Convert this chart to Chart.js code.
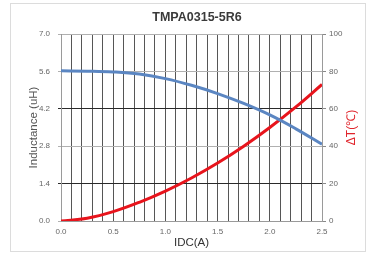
<!DOCTYPE html>
<html>
<head>
<meta charset="utf-8">
<script src="https://cdn.jsdelivr.net/npm/chart.js@4"></script>
<style>
  html, body { margin: 0; padding: 0; background: #fff; }
  #wrap { width: 367px; height: 254px; position: relative; }
</style>
</head>
<body>
<div id="wrap"><canvas id="myChart"></canvas></div>
<script>
// values
const idc = [0, 0.25, 0.5, 0.75, 1.0, 1.25, 1.5, 1.75, 2.0, 2.25, 2.5];
const inductance = [5.62, 5.61, 5.58, 5.5, 5.33, 5.08, 4.77, 4.4, 3.97, 3.45, 2.87];
const deltaT = [0, 1.5, 5, 10, 16, 23, 31, 40, 50, 61, 73];

const leftTicks = [0, 1.4, 2.8, 4.2, 5.6, 7.0];
const rightTicks = [0, 20, 40, 60, 80, 100];
const xLabels = [0, 0.5, 1.0, 1.5, 2.0, 2.5];

const font = "'Liberation Sans', Arial, sans-serif";

const toPoints = (xs, ys) => xs.map((x, i) => ({ x: x, y: ys[i] }));

// outer frame + right axis title (reads bottom-to-top)
const extras = {
    id: "extras",
    beforeDraw(chart) {
        const ctx = chart.ctx;
        ctx.save();
        ctx.strokeStyle = "#dcdcdc";
        ctx.lineWidth = 1;
        ctx.strokeRect(10.5, 3.5, 355, 248);
        ctx.restore();
    },
    afterDraw(chart) {
        const ctx = chart.ctx;
        const area = chart.chartArea;
        ctx.save();
        ctx.translate(352, (area.top + area.bottom) / 2);
        ctx.rotate(-Math.PI / 2);
        ctx.fillStyle = "#e0252c";
        ctx.font = "12px " + font;
        ctx.textAlign = "center";
        ctx.textBaseline = "middle";
        ctx.fillText("\u0394T(\u2103)", 0, 0);
        ctx.restore();
    }
};

const ctx = document.getElementById("myChart").getContext("2d");

new Chart(ctx, {
    type: "line",
    data: {
        datasets: [
            {
                label: "Inductance",
                data: toPoints(idc, inductance),
                yAxisID: "y",
                borderColor: "#5b86c2",
                borderWidth: 3,
                pointRadius: 0,
                tension: 0.4
            },
            {
                label: "dT",
                data: toPoints(idc, deltaT),
                yAxisID: "y2",
                borderColor: "#e8141c",
                borderWidth: 3,
                pointRadius: 0,
                tension: 0.4
            }
        ]
    },
    options: {
        responsive: true,
        maintainAspectRatio: false,
        animation: false,
        layout: { padding: { left: 27, right: 0, top: 0, bottom: 0 } },
        plugins: {
            legend: { display: false },
            tooltip: { enabled: false },
            title: {
                display: true,
                text: "TMPA0315-5R6",
                color: "#3a3a3a",
                font: { family: font, size: 12.5, weight: "bold" },
                padding: { top: 10, bottom: 9 }
            }
        },
        scales: {
            x: {
                type: "linear",
                min: 0,
                max: 2.5,
                afterBuildTicks(scale) {
                    const t = [];
                    for (let i = 0; i <= 25; i++) t.push({ value: i / 10 });
                    scale.ticks = t;
                },
                afterFit(scale) { scale.height = 33; },
                ticks: {
                    autoSkip: false,
                    maxRotation: 0,
                    color: "#666",
                    font: { family: font, size: 8 },
                    padding: 6,
                    callback(v) {
                        const hit = xLabels.find(l => Math.abs(l - v) < 1e-6);
                        return hit === undefined ? "" : hit.toFixed(1);
                    }
                },
                grid: {
                    color(c) {
                        const i = Math.round(c.tick.value * 10);
                        return (i === 0 || i === 25) ? "#9a9a9a" : "rgba(30,30,30,0.75)";
                    },
                    lineWidth: 1,
                    drawTicks: false
                },
                border: { color: "#9a9a9a" },
                title: {
                    display: true,
                    text: "IDC(A)",
                    color: "#333",
                    font: { family: font, size: 11.5 },
                    padding: { top: 0, bottom: 4 }
                }
            },
            y: {
                position: "left",
                min: 0,
                max: 7,
                afterBuildTicks(scale) {
                    scale.ticks = leftTicks.map(v => ({ value: v }));
                },
                afterFit(scale) { scale.width = 34; },
                ticks: {
                    color: "#666",
                    font: { family: font, size: 8 },
                    padding: 8,
                    callback: v => v.toFixed(1)
                },
                grid: {
                    color(c) {
                        const i = leftTicks.indexOf(c.tick.value);
                        if (i === 1 || i === 3) return "#2a2a2a";
                        return "#b0b0b0";
                    },
                    tickLength: 3
                },
                border: { color: "#9a9a9a" },
                title: {
                    display: true,
                    text: "Inductance (uH)",
                    color: "#555",
                    font: { family: font, size: 11.5 },
                    padding: { top: 0, bottom: 0 }
                }
            },
            y2: {
                position: "right",
                min: 0,
                max: 100,
                afterBuildTicks(scale) {
                    scale.ticks = rightTicks.map(v => ({ value: v }));
                },
                afterFit(scale) { scale.width = 45; },
                ticks: {
                    color: "#666",
                    font: { family: font, size: 8 },
                    padding: 3
                },
                grid: { drawOnChartArea: false, tickLength: 4, color: "#888" },
                border: { color: "#9a9a9a" }
            }
        }
    },
    plugins: [extras]
});
</script>
</body>
</html>
